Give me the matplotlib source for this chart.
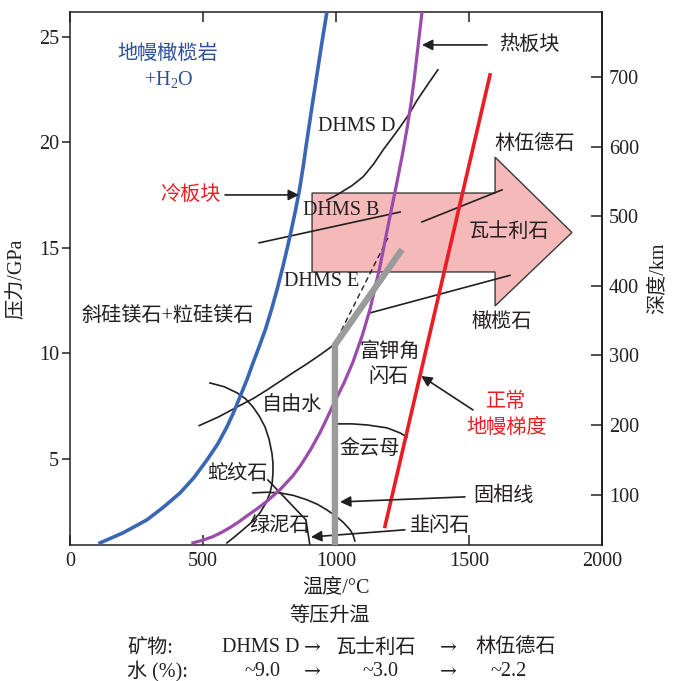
import matplotlib

matplotlib.use("Agg")
import matplotlib.pyplot as plt
from matplotlib.patches import Polygon

plt.rcParams["font.family"] = ["Liberation Serif", "Noto Sans CJK SC"]
plt.rcParams["mathtext.fontset"] = "custom"
plt.rcParams["mathtext.rm"] = "Liberation Serif"

FS = 14.5
INK = "#231f20"
RED = "#ec1c24"

# 温度 (°C) / 压力 (GPa)
blue_T = [113, 200, 289, 350, 414, 465, 515, 555, 590, 615, 639, 665, 688,
          712, 735, 758, 780, 800, 817, 833, 848, 862, 876, 889, 908, 927,
          946, 966]
blue_P = [1.02, 1.5, 2.11, 2.7, 3.39, 4.1, 4.95, 5.7, 6.52, 7.2, 7.94, 8.75,
          9.55, 10.35, 11.15, 12.1, 13.1, 14.1, 15.0, 15.9, 16.8, 17.7, 18.8,
          19.95, 21.55, 23.1, 24.65, 26.2]

hot_T = [462, 500, 538, 570, 602, 635, 665, 705, 741, 790, 838, 870, 905,
         940, 965, 989, 1030, 1064, 1100, 1128, 1165, 1203, 1229, 1250, 1267,
         1282, 1295, 1323]
hot_P = [1.02, 1.15, 1.32, 1.52, 1.75, 2.02, 2.3, 2.65, 3.0, 3.55, 4.2, 4.75,
         5.45, 6.25, 6.9, 7.55, 8.6, 9.6, 10.9, 12.1, 14.1, 16.5, 18.1, 19.45,
         20.65, 21.85, 23.1, 26.14]

normal_T = [1184, 1579]
normal_P = [1.8, 23.2]

solidus_T = [996, 996, 1241]
solidus_P = [0.9, 10.4, 14.8]

dashed_T = [989, 1195]
dashed_P = [10.31, 15.47]

dhms_d_T = [966, 990, 1015, 1060, 1102, 1140, 1177, 1210, 1241, 1275, 1305,
            1345, 1383]
dhms_d_P = [17.27, 17.42, 17.6, 17.95, 18.37, 18.95, 19.64, 20.2, 20.73,
            21.35, 22.0, 22.75, 23.44]

dhms_b_T = [711, 1241]
dhms_b_P = [15.24, 16.7]

ringwoodite_T = [1323, 1624]
ringwoodite_P = [16.23, 17.75]

olivine_T = [1128, 1654]
olivine_P = [11.92, 13.7]

water_T = [486, 560, 628, 690, 741, 790, 838, 890, 940, 970, 996, 1016, 1034]
water_P = [6.58, 7.0, 7.46, 7.87, 8.27, 8.68, 9.08, 9.5, 9.93, 10.2, 10.45,
           10.7, 11.02]

serp_T = [526, 580, 628, 660, 688, 712, 733, 748, 759, 763, 763, 760, 752,
          736, 714, 685, 650, 620, 590]
serp_P = [8.6, 8.42, 8.13, 7.85, 7.46, 7.02, 6.52, 5.95, 5.28, 4.8, 4.34,
          3.85, 3.39, 2.9, 2.44, 2.02, 1.64, 1.32, 1.02]

chlorite_T = [688, 740, 789, 840, 891, 930, 966, 1000, 1026, 1053, 1064, 1071]
chlorite_P = [3.39, 3.42, 3.39, 3.27, 3.06, 2.85, 2.58, 2.28, 2.01, 1.64,
              1.4, 1.11]

pargasite_T = [744, 887, 902]
pargasite_P = [4.0, 2.11, 0.9]

phlog_T = [1004, 1060, 1117, 1192, 1241, 1267]
phlog_P = [6.66, 6.66, 6.61, 6.47, 6.23, 6.04]

P_TICKS = [5, 10, 15, 20, 25]
T_TICKS = [0, 500, 1000, 1500, 2000]
DEPTH_TICKS = [100, 200, 300, 400, 500, 600, 700]
KM_PER_GPA = 30.3


def p_to_depth(p):
    return p * KM_PER_GPA


def depth_to_p(d):
    return d / KM_PER_GPA


fig = plt.figure(figsize=(6.74, 6.81), dpi=100)
ax = fig.add_axes([70 / 674, 136 / 681, 532 / 674, 533 / 681])
ax.set_xlim(0, 2000)
ax.set_ylim(0.92, 26.18)

# 大箭头 (DHMS -> 瓦士利石 -> 林伍德石)
arrow = Polygon(
    [
        (910, 13.86), (910, 17.6), (1598, 17.6), (1598, 19.3),
        (1887, 15.73), (1598, 12.25), (1598, 13.86),
    ],
    closed=True, facecolor="#f6b9b9", edgecolor="#3a3a3a",
    linewidth=1.0, zorder=1,
)
ax.add_patch(arrow)

thin = dict(color=INK, linewidth=1.2, zorder=2)
ax.plot(dhms_d_T, dhms_d_P, **thin)
ax.plot(dhms_b_T, dhms_b_P, **thin)
ax.plot(ringwoodite_T, ringwoodite_P, **thin)
ax.plot(olivine_T, olivine_P, **thin)
ax.plot(water_T, water_P, **thin)
ax.plot(serp_T, serp_P, **thin)
ax.plot(chlorite_T, chlorite_P, **thin)
ax.plot(pargasite_T, pargasite_P, **thin)
ax.plot(phlog_T, phlog_P, **thin)
ax.plot(dashed_T, dashed_P, color=INK, linewidth=1.0,
        linestyle=(0, (4, 2.5)), zorder=2)

ax.plot(blue_T, blue_P, color="#3a66b6", linewidth=2.6, zorder=3)
ax.plot(hot_T, hot_P, color="#9b4bab", linewidth=2.3, zorder=3)
ax.plot(normal_T, normal_P, color=RED, linewidth=2.6, zorder=3)
ax.plot(solidus_T, solidus_P, color="#9b9b9b", linewidth=4.6,
        solid_joinstyle="miter", zorder=4)

# 文字标注
ax.text(368, 24.15, "地幔橄榄岩", color="#2e4f9f", fontsize=FS,
        ha="center", va="center")
ax.text(372, 22.96, r"+H$_{\mathrm{2}}$O", color="#2e4f9f", fontsize=FS,
        ha="center", va="center")

labels = [
    (1079, 20.73, "DHMS D"),
    (1019, 16.75, "DHMS B"),
    (947, 13.39, "DHMS E"),
    (1748, 19.88, "林伍德石"),
    (1650, 15.71, "瓦士利石"),
    (368, 11.73, "斜硅镁石+粒硅镁石"),
    (1624, 11.45, "橄榄石"),
    (1203, 10.07, "富钾角"),
    (1199, 8.84, "闪石"),
    (835, 7.51, "自由水"),
    (1128, 5.43, "金云母"),
    (628, 4.24, "蛇纹石"),
    (789, 1.78, "绿泥石"),
]
for x, y, s in labels:
    ax.text(x, y, s, color=INK, fontsize=FS, ha="center", va="center",
            zorder=5)

arrowprops = dict(arrowstyle="-|>", color=INK, linewidth=1.2,
                  mutation_scale=16, shrinkA=0, shrinkB=0)

ax.annotate("", xy=(861, 17.51), xytext=(583, 17.51), arrowprops=arrowprops)
ax.text(451, 17.51, "冷板块", color=RED, fontsize=FS,
        ha="center", va="center")

ax.annotate("", xy=(1323, 24.62), xytext=(1568, 24.62), arrowprops=arrowprops)
ax.text(1728, 24.62, "热板块", color=INK, fontsize=FS,
        ha="center", va="center")

ax.annotate("", xy=(1320, 8.93), xytext=(1515, 7.32), arrowprops=arrowprops)
ax.text(1639, 7.7, "正常", color=RED, fontsize=FS,
        ha="center", va="center")
ax.text(1643, 6.47, "地幔梯度", color=RED, fontsize=FS,
        ha="center", va="center")

ax.annotate("", xy=(1015, 2.96), xytext=(1485, 3.2), arrowprops=arrowprops)
ax.text(1628, 3.25, "固相线", color=INK, fontsize=FS,
        ha="center", va="center")

ax.annotate("", xy=(906, 1.3), xytext=(1259, 1.64), arrowprops=arrowprops)
ax.text(1391, 1.78, "韭闪石", color=INK, fontsize=FS,
        ha="center", va="center")

# 坐标轴
ax.set_xticks(T_TICKS)
ax.set_yticks(P_TICKS)
ax.tick_params(axis="x", direction="in", top=True, bottom=True, length=7,
               width=1.1, labelsize=FS, pad=5, colors=INK)
ax.tick_params(axis="y", direction="out", left=True, right=False, length=6,
               width=1.1, labelsize=FS, pad=2, colors=INK)
for spine in ax.spines.values():
    spine.set_linewidth(1.1)
    spine.set_color(INK)

ax.set_xlabel("温度/°C", fontsize=FS, color=INK, labelpad=5)
ax.set_ylabel("压力/GPa", fontsize=FS, color=INK, labelpad=9)

sec = ax.secondary_yaxis("right", functions=(p_to_depth, depth_to_p))
sec.set_yticks(DEPTH_TICKS)
sec.tick_params(direction="in", length=8, width=1.1, labelsize=FS, pad=5,
                colors=INK)
sec.spines["right"].set_linewidth(1.1)
sec.set_ylabel("深度/km", fontsize=FS, color=INK, labelpad=7)


# 图下说明
def ftext(px, py, s, ha="center", family=None):
    kw = {} if family is None else {"family": family}
    fig.text(px / 674, 1 - py / 681, s, fontsize=FS, color=INK,
             ha=ha, va="center", **kw)


ARROW_FONT = ["DejaVu Serif"]

ftext(330, 617, "等压升温")
ftext(127, 648, "矿物:", ha="left")
ftext(222, 648, "DHMS D", ha="left")
ftext(312, 648, "→", family=ARROW_FONT)
ftext(376, 648, "瓦士利石")
ftext(448, 648, "→", family=ARROW_FONT)
ftext(516, 648, "林伍德石")
ftext(127, 672, "水 (%):", ha="left")
ftext(262, 672, "~9.0")
ftext(312, 672, "→", family=ARROW_FONT)
ftext(380, 672, "~3.0")
ftext(448, 672, "→", family=ARROW_FONT)
ftext(509, 672, "~2.2")

fig.savefig("out.png", dpi=100)
